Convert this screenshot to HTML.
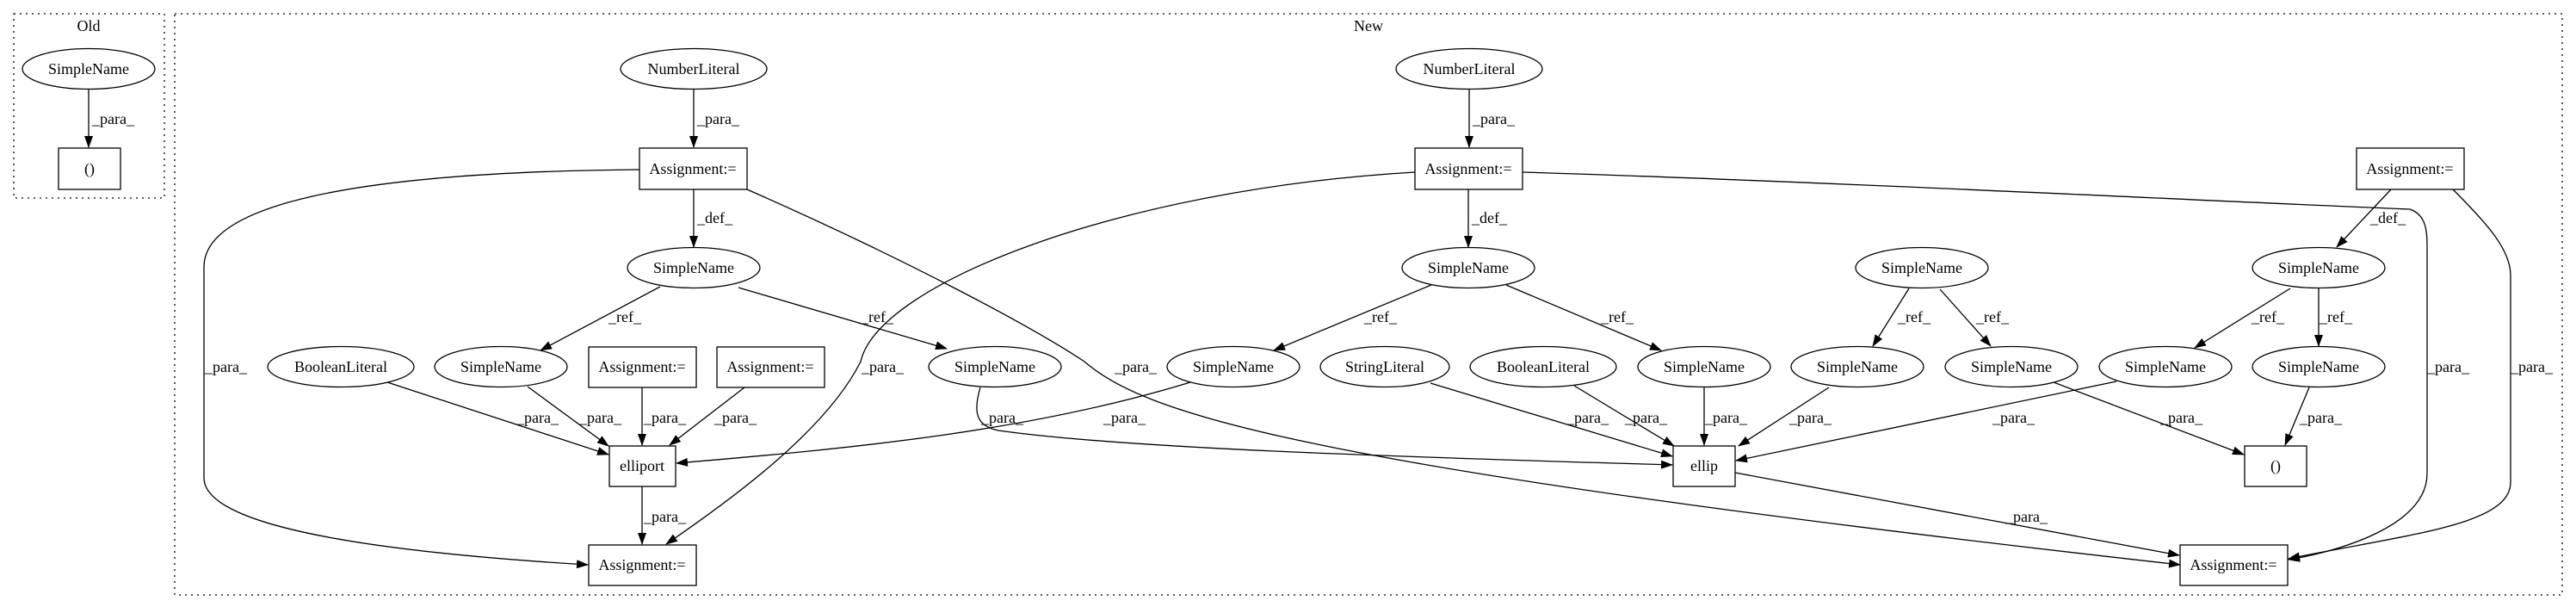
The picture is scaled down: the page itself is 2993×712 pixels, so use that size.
<!DOCTYPE html>
<html><head><style>html,body{margin:0;padding:0;background:#fff}svg{display:block}text{font-family:"Liberation Serif",serif;font-size:18px;fill:#000}</style></head><body>
<svg width="2993" height="712" viewBox="0 0 2993 712" xmlns="http://www.w3.org/2000/svg">
<defs><marker id="a" markerWidth="14" markerHeight="10" refX="13" refY="5" orient="auto" markerUnits="userSpaceOnUse"><path d="M0,0 L14,5 L0,10 z" fill="#000"/></marker></defs>
<g fill="none" stroke="#000" stroke-width="1.3" stroke-dasharray="2,5">
<rect x="16" y="16" width="175" height="214"/>
<rect x="203" y="16" width="2774" height="675"/>
</g>
<g text-anchor="middle">
<text x="103" y="36">Old</text>
<text x="1590" y="36">New</text>
</g>
<g fill="#fff" stroke="#000" stroke-width="1.3">
<ellipse cx="103" cy="80" rx="77" ry="23.5"/>
<rect x="68" y="172" width="72" height="48"/>
<ellipse cx="806" cy="80" rx="85" ry="23.5"/>
<rect x="743" y="172" width="125" height="48"/>
<ellipse cx="806" cy="311" rx="77" ry="23.5"/>
<ellipse cx="396" cy="426" rx="85" ry="23.5"/>
<ellipse cx="582" cy="426" rx="77" ry="23.5"/>
<rect x="684" y="403" width="125" height="47"/>
<rect x="833" y="403" width="125" height="47"/>
<rect x="708" y="518" width="77" height="47"/>
<rect x="684" y="633" width="125" height="47"/>
<ellipse cx="1707" cy="80" rx="85" ry="23.5"/>
<rect x="1644" y="172" width="125" height="48"/>
<ellipse cx="1706" cy="311" rx="77" ry="23.5"/>
<ellipse cx="1156" cy="426" rx="77" ry="23.5"/>
<ellipse cx="1433" cy="426" rx="77" ry="23.5"/>
<ellipse cx="1609" cy="426" rx="75" ry="23.5"/>
<ellipse cx="1793" cy="426" rx="85" ry="23.5"/>
<ellipse cx="1980" cy="426" rx="77" ry="23.5"/>
<rect x="1944" y="518" width="72" height="47"/>
<rect x="2738" y="172" width="125" height="48"/>
<ellipse cx="2233" cy="311" rx="77" ry="23.5"/>
<ellipse cx="2694" cy="311" rx="77" ry="23.5"/>
<ellipse cx="2158" cy="426" rx="77" ry="23.5"/>
<ellipse cx="2337" cy="426" rx="77" ry="23.5"/>
<ellipse cx="2516" cy="426" rx="77" ry="23.5"/>
<ellipse cx="2694" cy="426" rx="77" ry="23.5"/>
<rect x="2608" y="518" width="72" height="47"/>
<rect x="2533" y="633" width="125" height="47"/>
</g>
<g text-anchor="middle">
<text x="103" y="86">SimpleName</text>
<text x="104" y="202">()</text>
<text x="806" y="86">NumberLiteral</text>
<text x="805" y="202">Assignment:=</text>
<text x="806" y="317">SimpleName</text>
<text x="396" y="432">BooleanLiteral</text>
<text x="582" y="432">SimpleName</text>
<text x="746" y="432">Assignment:=</text>
<text x="895" y="432">Assignment:=</text>
<text x="746" y="547">elliport</text>
<text x="746" y="662">Assignment:=</text>
<text x="1707" y="86">NumberLiteral</text>
<text x="1706" y="202">Assignment:=</text>
<text x="1706" y="317">SimpleName</text>
<text x="1156" y="432">SimpleName</text>
<text x="1433" y="432">SimpleName</text>
<text x="1609" y="432">StringLiteral</text>
<text x="1793" y="432">BooleanLiteral</text>
<text x="1980" y="432">SimpleName</text>
<text x="1980" y="547">ellip</text>
<text x="2800" y="202">Assignment:=</text>
<text x="2233" y="317">SimpleName</text>
<text x="2694" y="317">SimpleName</text>
<text x="2158" y="432">SimpleName</text>
<text x="2337" y="432">SimpleName</text>
<text x="2516" y="432">SimpleName</text>
<text x="2694" y="432">SimpleName</text>
<text x="2644" y="547">()</text>
<text x="2595" y="662">Assignment:=</text>
</g>
<g fill="none" stroke="#000" stroke-width="1.3" marker-end="url(#a)">
<path d="M103,104 L103,171"/>
<path d="M806,104 L806,171"/>
<path d="M806,220 L806,287"/>
<path d="M743,197 C400,200 237,240 237,310 L237,555 C237,620 500,645 683,656"/>
<path d="M868,220 C1050,300 1200,380 1260,420 C1330,480 1500,540 2533,656"/>
<path d="M767,333 L628,407"/>
<path d="M858,334 L1100,405"/>
<path d="M450,444 L707,528"/>
<path d="M613,449 L707,518"/>
<path d="M746,450 L746,517"/>
<path d="M865,450 L778,517"/>
<path d="M1383,444 C1200,500 1000,520 786,538"/>
<path d="M746,565 L746,632"/>
<path d="M1644,200 C1300,220 1020,330 1000,420 C960,500 850,580 774,632"/>
<path d="M1707,104 L1707,171"/>
<path d="M1706,220 L1706,287"/>
<path d="M1663,331 L1480,407"/>
<path d="M1750,331 L1930,407"/>
<path d="M1139,450 C1130,480 1135,495 1160,500 C1300,520 1600,530 1943,540"/>
<path d="M1662,445 L1943,530"/>
<path d="M1829,448 L1945,518"/>
<path d="M1980,450 L1980,517"/>
<path d="M2125,450 L2020,518"/>
<path d="M2459,443 L2017,535"/>
<path d="M1769,200 C2100,210 2600,235 2800,243 C2820,250 2820,270 2820,290 L2820,550 C2820,610 2720,640 2659,650"/>
<path d="M2218,335 L2176,402"/>
<path d="M2254,336 L2313,402"/>
<path d="M2386,444 L2607,528"/>
<path d="M2683,450 L2655,517"/>
<path d="M2016,549 L2532,645"/>
<path d="M2778,220 L2715,287"/>
<path d="M2694,335 L2694,402"/>
<path d="M2661,335 L2550,404"/>
<path d="M2850,220 C2890,260 2917,290 2917,320 L2917,560 C2917,610 2800,620 2659,649"/>
</g>
<g>
<text x="107" y="144">_para_</text>
<text x="810" y="144">_para_</text>
<text x="810" y="259">_def_</text>
<text x="238" y="432">_para_</text>
<text x="707" y="374">_ref_</text>
<text x="1000" y="374">_ref_</text>
<text x="600" y="491">_para_</text>
<text x="673" y="491">_para_</text>
<text x="748" y="491">_para_</text>
<text x="830" y="491">_para_</text>
<text x="748" y="606">_para_</text>
<text x="1001" y="432">_para_</text>
<text x="1295" y="432">_para_</text>
<text x="1140" y="491">_para_</text>
<text x="1282" y="491">_para_</text>
<text x="1711" y="144">_para_</text>
<text x="1710" y="259">_def_</text>
<text x="1585" y="374">_ref_</text>
<text x="1860" y="374">_ref_</text>
<text x="1820" y="491">_para_</text>
<text x="1888" y="491">_para_</text>
<text x="1981" y="491">_para_</text>
<text x="2079" y="491">_para_</text>
<text x="2315" y="491">_para_</text>
<text x="2510" y="491">_para_</text>
<text x="2672" y="491">_para_</text>
<text x="2330" y="606">_para_</text>
<text x="2205" y="374">_ref_</text>
<text x="2296" y="374">_ref_</text>
<text x="2616" y="374">_ref_</text>
<text x="2695" y="374">_ref_</text>
<text x="2754" y="259">_def_</text>
<text x="2820" y="432">_para_</text>
<text x="2917" y="432">_para_</text>
</g>
</svg>
</body></html>
